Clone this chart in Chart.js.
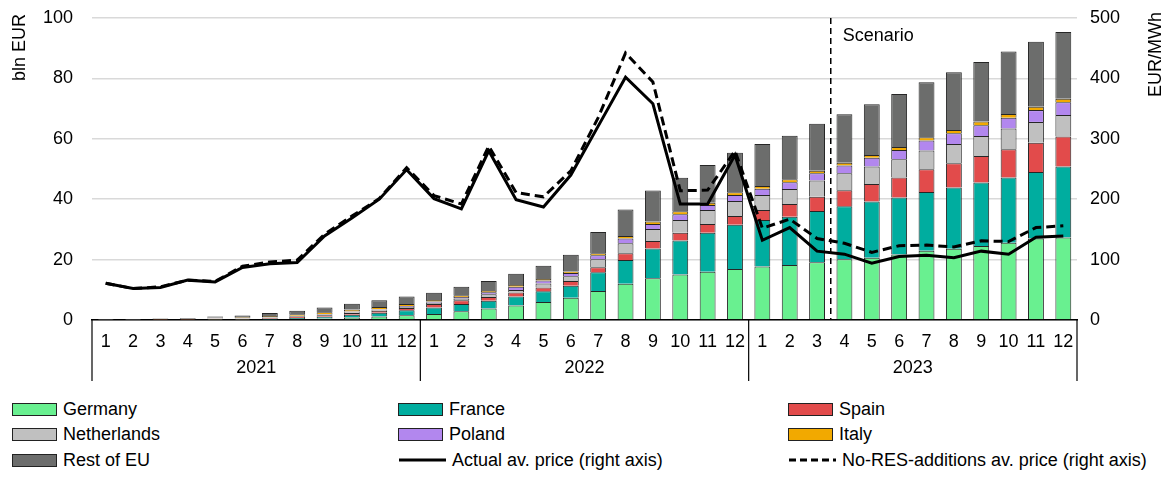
<!DOCTYPE html>
<html>
<head>
<meta charset="utf-8">
<script src="https://cdn.jsdelivr.net/npm/chart.js@4.4.1/dist/chart.umd.min.js"></script>
<style>
  body { margin: 0; background: #fff; font-family: "Liberation Sans", Arial, sans-serif; }
  #wrap { position: relative; width: 1172px; height: 478px; }
  #chart { position: absolute; left: 0; top: 0; }
  .item { position: absolute; display: flex; align-items: center; font-size: 18px; color: #000; height: 22px; white-space: nowrap; }
  .box { width: 45px; height: 13px; border: 1.5px solid #222; box-sizing: border-box; margin-right: 6px; }
  .item svg { margin-right: 5px; }
</style>
</head>
<body>
<div id="wrap">
  <canvas id="chart" width="1172" height="392"></canvas>
  <div id="legend"></div>
</div>
<script>
  // month ticks and year groups
  const YEARS = ["2021", "2022", "2023"];
  const MONTHS = [];
  YEARS.forEach(function () {
    for (let m = 1; m <= 12; m++) MONTHS.push(String(m));
  });

  // bln EUR, stacked (Jan 2021 .. Dec 2023)
  const GERMANY = [
    0, 0, 0, 0, 0.1, 0.1, 0.2, 0.3, 0.5, 0.8, 1.2, 1.6,
    2.0, 2.9, 3.8, 4.8, 6.0, 7.4, 9.6, 12.0, 13.8, 15.1, 16.0, 16.9,
    17.7, 18.2, 19.1, 20.1, 20.6, 21.7, 22.9, 23.6, 24.5, 25.6, 27.0, 27.3
  ];
  const FRANCE = [
    0, 0, 0, 0, 0.1, 0.1, 0.2, 0.4, 0.6, 0.9, 1.2, 1.6,
    2.1, 2.4, 2.6, 3.0, 3.5, 3.9, 6.2, 7.9, 9.9, 11.2, 12.9, 14.6,
    15.4, 16.0, 17.0, 17.6, 18.6, 18.9, 19.5, 20.3, 21.0, 21.6, 22.0, 23.5
  ];
  const SPAIN = [
    0, 0, 0.1, 0.1, 0.2, 0.2, 0.3, 0.4, 0.5, 0.6, 0.7, 0.8,
    1.2, 1.2, 1.2, 1.3, 1.3, 1.6, 1.7, 2.2, 2.5, 2.6, 2.9, 2.9,
    3.3, 4.2, 4.7, 5.3, 5.8, 6.6, 7.5, 8.0, 8.8, 9.3, 9.7, 10.0
  ];
  const NETHERLANDS = [
    0.1, 0.1, 0.1, 0.1, 0.1, 0.1, 0.1, 0.2, 0.2, 0.3, 0.3, 0.3,
    0.4, 0.6, 0.9, 0.8, 1.3, 1.6, 2.6, 3.3, 3.9, 4.2, 4.6, 5.0,
    5.0, 5.0, 5.4, 5.6, 5.8, 6.0, 6.2, 6.4, 6.6, 6.9, 6.9, 7.1
  ];
  const POLAND = [
    0, 0, 0, 0, 0.1, 0.1, 0.1, 0.1, 0.2, 0.2, 0.2, 0.3,
    0.4, 0.5, 0.7, 1.1, 1.0, 1.1, 1.3, 1.6, 1.7, 1.9, 1.7, 2.0,
    2.1, 2.2, 2.4, 2.6, 2.9, 3.1, 3.3, 3.5, 3.6, 3.6, 3.9, 4.2
  ];
  const ITALY = [
    0, 0, 0.1, 0.1, 0.2, 0.3, 0.4, 0.5, 0.6, 0.7, 0.7, 0.7,
    0.5, 0.6, 0.4, 0.6, 0.5, 0.5, 0.7, 0.8, 0.8, 1.0, 0.7, 0.9,
    0.9, 1.0, 0.8, 0.9, 0.9, 1.0, 1.1, 1.1, 1.2, 1.2, 1.1, 1.2
  ];
  const REST_OF_EU = [
    0.2, 0.2, 0.2, 0.3, 0.4, 0.6, 1.0, 1.2, 1.5, 1.9, 2.2, 2.5,
    2.4, 2.8, 3.3, 3.7, 4.4, 5.5, 7.0, 8.8, 10.3, 11.1, 12.5, 13.1,
    13.9, 14.4, 15.6, 16.0, 16.8, 17.5, 18.2, 19.1, 19.7, 20.7, 21.5, 22.1
  ];

  // EUR/MWh, right axis
  const ACTUAL_PRICE = [
    61, 52, 54, 66, 63, 87, 93, 95, 139, 169, 200, 249,
    201, 184, 280, 199, 187, 240, 321, 402, 358, 192, 192, 273,
    132, 153, 114, 109, 94, 105, 107, 103, 114, 109, 137, 139
  ];
  const NO_RES_PRICE = [
    61, 52, 55, 66, 64, 89, 96, 99, 142, 172, 201, 252,
    206, 192, 288, 211, 204, 247, 335, 442, 394, 214, 215, 280,
    152, 167, 135, 127, 112, 123, 124, 121, 131, 130, 153, 156
  ];

  const SCENARIO_AFTER = 26; // scenario starts after Mar 2023 (index 26)

  const FONT = '"Liberation Sans", Arial, sans-serif';
  const EDGE = "#262626";

  function bar(label, data, color) {
    return {
      type: "bar", label: label, data: data, backgroundColor: color,
      borderColor: EDGE, borderWidth: 1, barPercentage: 0.58, categoryPercentage: 1,
      yAxisID: "y", order: 2
    };
  }

  const datasets = [
    bar("Germany", GERMANY, "#69f090"),
    bar("France", FRANCE, "#00ad9f"),
    bar("Spain", SPAIN, "#e24b4b"),
    bar("Netherlands", NETHERLANDS, "#c0c0c0"),
    bar("Poland", POLAND, "#b287ee"),
    bar("Italy", ITALY, "#f2a900"),
    bar("Rest of EU", REST_OF_EU, "#6c6d6c"),
    {
      type: "line", label: "Actual av. price (right axis)", data: ACTUAL_PRICE,
      borderColor: "#000", borderWidth: 3, pointRadius: 0, tension: 0, fill: false,
      yAxisID: "y1", order: 0
    },
    {
      type: "line", label: "No-RES-additions av. price (right axis)", data: NO_RES_PRICE,
      borderColor: "#000", borderWidth: 3, borderDash: [9, 5], pointRadius: 0, tension: 0, fill: false,
      yAxisID: "y1", order: 1
    }
  ];

  // year brackets, scenario marker, rotated axis titles
  const extras = {
    id: "extras",
    afterDatasetsDraw(chart) {
      const ctx = chart.ctx, area = chart.chartArea, x = chart.scales.x;
      const sx = (x.getPixelForValue(SCENARIO_AFTER) + x.getPixelForValue(SCENARIO_AFTER + 1)) / 2;
      ctx.save();
      ctx.strokeStyle = "#000";
      ctx.lineWidth = 1.5;
      ctx.setLineDash([6, 4]);
      ctx.beginPath();
      ctx.moveTo(sx, area.top);
      ctx.lineTo(sx, area.bottom);
      ctx.stroke();
      ctx.setLineDash([]);
      ctx.fillStyle = "#000";
      ctx.font = "18px " + FONT;
      ctx.textBaseline = "middle";
      ctx.textAlign = "left";
      ctx.fillText("Scenario", sx + 12, 36);
      ctx.restore();
    },
    afterDraw(chart) {
      const ctx = chart.ctx, area = chart.chartArea, x = chart.scales.x;
      const bottom = area.bottom;
      ctx.save();
      ctx.strokeStyle = "#000";
      ctx.lineWidth = 1.2;
      const edges = [];
      for (let g = 0; g <= YEARS.length; g++) {
        let px;
        if (g === 0) px = area.left;
        else if (g === YEARS.length) px = area.right;
        else px = (x.getPixelForValue(g * 12 - 1) + x.getPixelForValue(g * 12)) / 2;
        edges.push(px);
        ctx.beginPath();
        ctx.moveTo(px, bottom);
        ctx.lineTo(px, bottom + 61);
        ctx.stroke();
      }
      ctx.fillStyle = "#000";
      ctx.font = "18px " + FONT;
      ctx.textAlign = "center";
      ctx.textBaseline = "middle";
      YEARS.forEach(function (y, i) {
        ctx.fillText(y, (edges[i] + edges[i + 1]) / 2, bottom + 48);
      });

      ctx.textAlign = "right";
      ctx.save();
      ctx.translate(20, 14);
      ctx.rotate(-Math.PI / 2);
      ctx.fillText("bln EUR", 0, 0);
      ctx.restore();
      ctx.save();
      ctx.translate(1156, 12);
      ctx.rotate(-Math.PI / 2);
      ctx.fillText("EUR/MWh", 0, 0);
      ctx.restore();
      ctx.restore();
    }
  };

  const tickFont = { family: FONT, size: 18 };

  function fixY(width) {
    return function (s) {
      s.width = width;
      s.paddingTop = 0;
      s.paddingBottom = 0;
    };
  }

  new Chart(document.getElementById("chart").getContext("2d"), {
    data: { labels: MONTHS, datasets: datasets },
    options: {
      responsive: false,
      animation: false,
      layout: { padding: { top: 18, left: 0, right: 0, bottom: 0 } },
      plugins: { legend: { display: false }, tooltip: { enabled: false } },
      scales: {
        x: {
          stacked: true,
          grid: { display: false, drawTicks: false },
          border: { display: true, color: "#000", width: 1.5 },
          ticks: { color: "#000", font: tickFont, padding: 11, maxRotation: 0, autoSkip: false },
          afterFit(s) { s.height = 72; s.paddingLeft = 0; s.paddingRight = 0; }
        },
        y: {
          stacked: true, position: "left", min: 0, max: 100,
          ticks: { stepSize: 20, color: "#000", font: tickFont, padding: 19 },
          grid: { color: "#d9d9d9", lineWidth: 1.5, drawTicks: false },
          border: { display: false },
          afterFit: fixY(92)
        },
        y1: {
          position: "right", min: 0, max: 500,
          ticks: { stepSize: 100, color: "#000", font: tickFont, padding: 13 },
          grid: { display: false, drawTicks: false },
          border: { display: false },
          afterFit: fixY(95)
        }
      }
    },
    plugins: [extras]
  });

  // three-column legend
  const LEGEND_COLS = [12, 398, 788];
  const LEGEND_ROWS = [398, 423, 449];
  const legend = document.getElementById("legend");
  datasets.forEach(function (ds, i) {
    const item = document.createElement("div");
    item.className = "item";
    item.style.left = LEGEND_COLS[i % 3] + "px";
    item.style.top = LEGEND_ROWS[Math.floor(i / 3)] + "px";
    if (ds.type === "bar") {
      const b = document.createElement("span");
      b.className = "box";
      b.style.background = ds.backgroundColor;
      item.appendChild(b);
    } else {
      const dash = ds.borderDash ? ' stroke-dasharray="7,4"' : "";
      item.insertAdjacentHTML("beforeend",
        '<svg width="49" height="10"><line x1="1" y1="5" x2="48" y2="5" stroke="#000" stroke-width="3"' + dash + '/></svg>');
    }
    const t = document.createElement("span");
    t.textContent = ds.label;
    item.appendChild(t);
    legend.appendChild(item);
  });
</script>
</body>
</html>
